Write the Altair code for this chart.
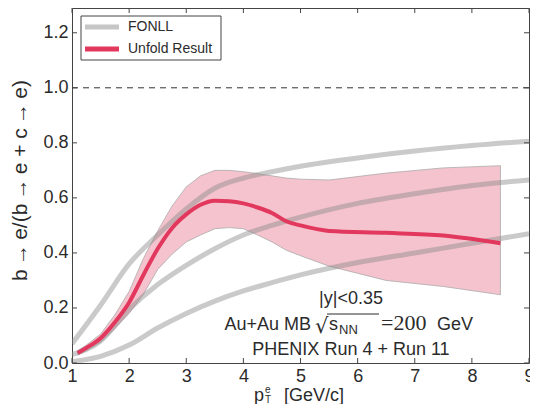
import altair as alt
import pandas as pd

# ---------------- data ----------------
fonll_pt = [1.0, 1.5, 2.0, 2.5, 3.0, 3.5, 4.0, 4.5, 5.0, 6.0, 7.0, 8.0, 9.0]
fonll_upper = [0.07, 0.21, 0.36, 0.465, 0.56, 0.635, 0.672, 0.695, 0.715, 0.745, 0.77, 0.79, 0.806]
fonll_central = [0.03, 0.08, 0.195, 0.285, 0.355, 0.415, 0.465, 0.50, 0.53, 0.58, 0.615, 0.645, 0.665]
fonll_lower = [0.005, 0.024, 0.065, 0.127, 0.18, 0.225, 0.262, 0.292, 0.32, 0.365, 0.40, 0.435, 0.47]

unfold_pt = [1.1, 1.25, 1.5, 1.75, 2.0, 2.25, 2.5, 2.75, 3.0, 3.25, 3.5, 3.75,
             4.0, 4.25, 4.5, 4.75, 5.0, 5.5, 6.5, 7.5, 8.5]
unfold_ratio = [0.036, 0.055, 0.09, 0.148, 0.22, 0.32, 0.415, 0.49, 0.54, 0.575, 0.59, 0.588,
                0.58, 0.565, 0.545, 0.515, 0.50, 0.48, 0.473, 0.463, 0.435]
unfold_upper = [0.045, 0.065, 0.105, 0.175, 0.26, 0.38, 0.48, 0.57, 0.64, 0.68, 0.70, 0.70,
                0.695, 0.688, 0.68, 0.672, 0.668, 0.665, 0.69, 0.709, 0.717]
unfold_lower = [0.03, 0.045, 0.075, 0.125, 0.18, 0.25, 0.34, 0.395, 0.44, 0.465, 0.488, 0.492,
                0.488, 0.465, 0.44, 0.41, 0.39, 0.352, 0.30, 0.278, 0.248]

x_ticks = [1, 2, 3, 4, 5, 6, 7, 8, 9]
y_ticks = [0.0, 0.2, 0.4, 0.6, 0.8, 1.0, 1.2]
ref_level = [1.0]

legend_labels = ["FONLL", "Unfold Result"]
annotation_lines = ["|y|<0.35", "PHENIX Run 4 + Run 11"]
y_title = "b\u2009→\u2009e/(b\u2009→\u2009e + c\u2009→\u2009e)"

# ---------------- styling ----------------
W, H = 457, 355
FONT = "Liberation Sans"
SERIF = "Liberation Serif"
TXT = "#2b2b2b"
FRAME = "#444444"
RED = "#e2385e"
PINK = "#f5c3cd"
GREY = "#8a8a8a"

xs = alt.Scale(domain=[1, 9], nice=False, zero=False)
ys = alt.Scale(domain=[0, 1.29], nice=False, zero=False)

fonll_df = pd.concat([
    pd.DataFrame({"pt": fonll_pt, "ratio": fonll_upper, "curve": "upper"}),
    pd.DataFrame({"pt": fonll_pt, "ratio": fonll_central, "curve": "central"}),
    pd.DataFrame({"pt": fonll_pt, "ratio": fonll_lower, "curve": "lower"}),
])
unfold_df = pd.DataFrame({"pt": unfold_pt, "ratio": unfold_ratio,
                          "lo": unfold_lower, "hi": unfold_upper})
xt_df = pd.DataFrame({"pt": x_ticks})
yt_df = pd.DataFrame({"ratio": y_ticks})
ref_df = pd.DataFrame({"ratio": ref_level})

x_axis = alt.Axis(values=x_ticks, format="d", title=None, grid=False, domain=False,
                  ticks=False, tickSize=0, labelFont=FONT, labelFontSize=18,
                  labelColor=TXT, labelPadding=4, labelFlush=False)
y_axis = alt.Axis(values=y_ticks, format=".1f", title=y_title, grid=False,
                  domain=False, ticks=False, tickSize=0, labelFont=FONT, labelFontSize=18,
                  labelColor=TXT, labelPadding=4, labelFlush=False,
                  titleFont=FONT, titleFontSize=21,
                  titleFontWeight="normal", titleColor=TXT, titleX=-42, titleY=172,
                  titleAngle=-90, titleBaseline="bottom", titleAlign="center")

band = alt.Chart(unfold_df).mark_area(color=PINK, stroke="#ababab", strokeWidth=0.8,
                                      opacity=1).encode(
    x=alt.X("pt:Q", scale=xs, axis=x_axis),
    y=alt.Y("lo:Q", scale=ys, axis=y_axis),
    y2="hi:Q",
)

fonll = alt.Chart(fonll_df).mark_line(color=GREY, strokeWidth=5, opacity=0.45,
                                      interpolate="monotone", clip=True).encode(
    x=alt.X("pt:Q", scale=xs),
    y=alt.Y("ratio:Q", scale=ys),
    detail="curve:N",
)

red = alt.Chart(unfold_df).mark_line(color=RED, strokeWidth=4,
                                     interpolate="monotone").encode(
    x=alt.X("pt:Q", scale=xs),
    y=alt.Y("ratio:Q", scale=ys),
)

ref = alt.Chart(ref_df).mark_rule(color="#333333", strokeWidth=1, strokeDash=[6, 5]).encode(
    y=alt.Y("ratio:Q", scale=ys),
)

# inward ticks on all four sides
tick_style = dict(color=FRAME, strokeWidth=1)
xb = alt.Chart(xt_df).mark_rule(**tick_style).encode(
    x=alt.X("pt:Q", scale=xs), y=alt.value(H), y2=alt.value(H - 5))
xt = alt.Chart(xt_df).mark_rule(**tick_style).encode(
    x=alt.X("pt:Q", scale=xs), y=alt.value(0), y2=alt.value(5))
yl = alt.Chart(yt_df).mark_rule(**tick_style).encode(
    y=alt.Y("ratio:Q", scale=ys), x=alt.value(0), x2=alt.value(5))
yr = alt.Chart(yt_df).mark_rule(**tick_style).encode(
    y=alt.Y("ratio:Q", scale=ys), x=alt.value(W), x2=alt.value(W - 5))

# legend
leg_df = pd.DataFrame({"label": legend_labels, "row": [19, 41],
                       "col": ["#c6c6c6", RED]})
leg_box = alt.Chart(pd.DataFrame({"k": [0]})).mark_rect(
    fill="white", stroke=FRAME, strokeWidth=1).encode(
    x=alt.value(9), x2=alt.value(149), y=alt.value(8), y2=alt.value(52))
leg_lines = alt.Chart(leg_df).mark_rule(strokeWidth=5).encode(
    x=alt.value(13), x2=alt.value(47), y=alt.Y("row:Q", scale=None),
    color=alt.Color("col:N", scale=None))
leg_text = alt.Chart(leg_df).mark_text(align="left", baseline="middle", font=FONT,
                                       fontSize=14, color=TXT).encode(
    x=alt.value(56), y=alt.Y("row:Q", scale=None), text="label:N")

# annotation
ann_df = pd.DataFrame({"t": annotation_lines, "yy": [296, 347]})
ann = alt.Chart(ann_df).mark_text(align="center", baseline="alphabetic", font=FONT,
                                  fontSize=18, color=TXT).encode(
    x=alt.value(279), y=alt.Y("yy:Q", scale=None), text="t:N")

def txt(s, x, y, size=18, align="left", font=FONT):
    return alt.Chart(pd.DataFrame({"t": [s]})).mark_text(
        align=align, baseline="alphabetic", font=font, fontSize=size, color=TXT).encode(
        x=alt.value(x), y=alt.value(y), text="t:N")

energy = [
    txt("Au+Au MB", 239, 322, align="right"),
    txt("√", 243, 325, size=21, font="DejaVu Sans"),
    txt("s", 257, 322, size=18),
    txt("NN", 267, 326, size=13),
    txt("=200", 309, 322, size=22, font=SERIF),
    txt("GeV", 365, 322),
]
overline = alt.Chart(pd.DataFrame({"k": [0]})).mark_rule(color=TXT, strokeWidth=1).encode(
    x=alt.value(255), x2=alt.value(307), y=alt.value(306))

xtitle = [
    txt("p", 182, 393),
    txt("e", 193, 385, size=10),
    txt("T", 193, 395, size=10),
    txt("[GeV/c]", 212, 393),
]

chart = alt.layer(
    band, fonll, red, ref, xb, xt, yl, yr,
    leg_box, leg_lines, leg_text, ann, overline, *energy, *xtitle,
).properties(
    width=W, height=H,
    autosize=alt.AutoSizeParams(type="none"),
    padding={"left": 64, "top": 0, "right": 1, "bottom": 41},
).configure_view(stroke=FRAME, strokeWidth=1)

chart.save("out.html", embed_options={"renderer": "svg", "actions": False})
